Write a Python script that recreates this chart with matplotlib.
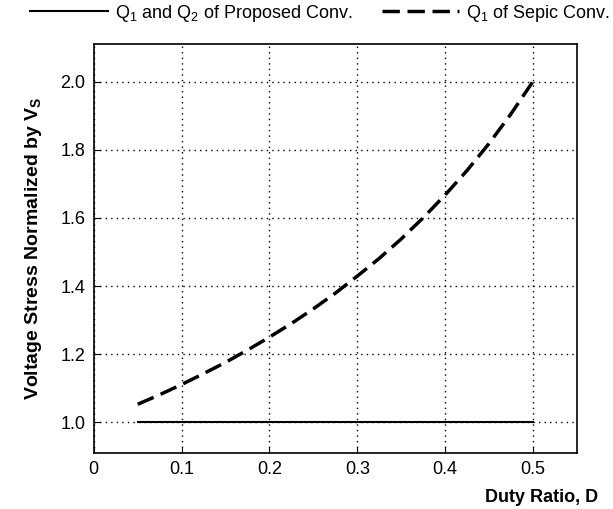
import matplotlib
matplotlib.use('Agg')
import matplotlib.pyplot as plt

plt.rcParams['font.family'] = ['Liberation Sans', 'DejaVu Sans']
plt.rcParams['mathtext.fontset'] = 'custom'
plt.rcParams['mathtext.rm'] = 'Liberation Sans'
plt.rcParams['mathtext.bf'] = 'Liberation Sans:bold'

# duty ratio samples and normalized switch voltage stress
duty = [0.05, 0.075, 0.10, 0.125, 0.15, 0.175, 0.20, 0.225, 0.25, 0.275,
        0.30, 0.325, 0.35, 0.375, 0.40, 0.425, 0.45, 0.475, 0.50]
proposed = [1.0] * len(duty)
sepic = [1.053, 1.081, 1.111, 1.143, 1.176, 1.212, 1.250, 1.290, 1.333, 1.379,
         1.429, 1.481, 1.538, 1.600, 1.667, 1.739, 1.818, 1.905, 2.0]

x_ticks = [0, 0.1, 0.2, 0.3, 0.4, 0.5]
y_ticks = [1.0, 1.2, 1.4, 1.6, 1.8, 2.0]

fig = plt.figure(figsize=(6.13, 5.09), dpi=100)
ax = fig.add_axes([0.153, 0.110, 0.788, 0.8035])

ax.plot(duty, proposed, color='black', lw=1.5, label=r'Q$_1$ and Q$_2$ of Proposed Conv.')
ax.plot(duty, sepic, color='black', lw=2.5, ls=(0, (5, 2.2)), label=r'Q$_1$ of Sepic Conv.')

ax.set_xlim(0, 0.55)
ax.set_ylim(0.91, 2.11)
ax.set_xticks(x_ticks)
ax.set_xticklabels(['0', '0.1', '0.2', '0.3', '0.4', '0.5'])
ax.set_yticks(y_ticks)
ax.set_yticklabels(['%.1f' % v for v in y_ticks])
ax.tick_params(direction='in', length=4, labelsize=13, pad=6)
ax.grid(True, color='black', ls=(0, (1, 3)), lw=1.0)
for sp in ax.spines.values():
    sp.set_linewidth(1.2)

ax.set_ylabel(r'Voltage Stress Normalized by V$_\mathbf{S}$', fontsize=14, fontweight='bold', labelpad=12)
fig.text(598 / 613, 3 / 509, 'Duty Ratio, D', fontsize=13, fontweight='bold', ha='right', va='bottom')

fig.legend(loc='upper left', bbox_to_anchor=(30 / 613, 0.995), ncol=2, frameon=False,
           fontsize=13, handlelength=4.3, columnspacing=1.6, handletextpad=0.4,
           borderpad=0, borderaxespad=0)

fig.savefig('out.png', dpi=100)
